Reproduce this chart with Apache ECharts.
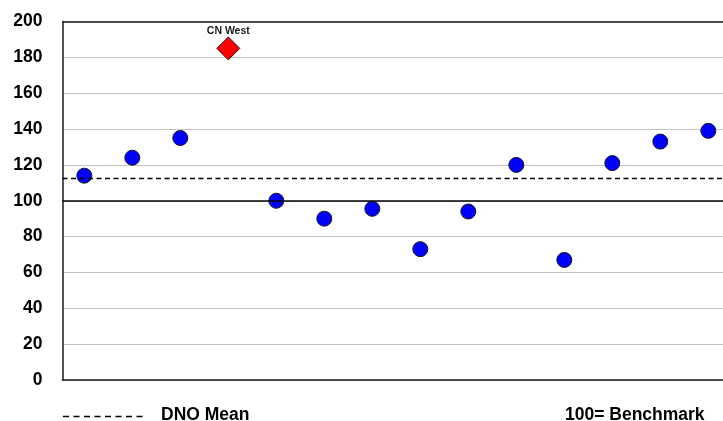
<!DOCTYPE html>
<html>
<head>
<meta charset="utf-8">
<script src="https://cdn.jsdelivr.net/npm/echarts@6/dist/echarts.min.js"></script>
<style>
  html, body { margin: 0; padding: 0; background: #fff; }
  #chart { width: 723px; height: 421px; }
</style>
</head>
<body>
<div id="chart"></div>
<script>
// Index scores per DNO area, in plotting order
const positions = [1, 2, 3, 4, 5, 6, 7, 8, 9, 10, 11, 12, 13, 14];
const scores = [114, 124, 135, 185, 100, 90, 95.5, 73, 94, 120, 67, 121, 133, 139];
const pointNames = ['', '', '', 'CN West', '', '', '', '', '', '', '', '', '', ''];
const highlighted = 'CN West';
const yTicks = [0, 20, 40, 60, 80, 100, 120, 140, 160, 180, 200];
const benchmark = 100;
const dnoMean = 112.7;

const FONT = "'Liberation Sans', Arial, Helvetica, sans-serif";

const normalPts = [];
const highlightPts = [];
positions.forEach((x, i) => {
  const pt = { value: [x, scores[i]], name: pointNames[i] };
  if (pointNames[i] === highlighted) highlightPts.push(pt); else normalPts.push(pt);
});

const chart = echarts.init(document.getElementById('chart'), null, { renderer: 'canvas' });

chart.setOption({
  animation: false,
  backgroundColor: '#ffffff',
  grid: { left: 62.5, top: 21.5, right: 0, bottom: 41 },
  xAxis: {
    type: 'value',
    min: 0.546, max: 14.306,
    axisLine: { show: true, onZero: false, lineStyle: { color: '#1a1a1a', width: 1.5 } },
    axisTick: { show: false },
    axisLabel: { show: false },
    splitLine: { show: false }
  },
  yAxis: {
    type: 'value',
    min: yTicks[0], max: yTicks[yTicks.length - 1], interval: 20,
    axisLine: { show: true, lineStyle: { color: '#1a1a1a', width: 1.5 } },
    axisTick: { show: false },
    axisLabel: {
      color: '#000', fontSize: 17.5, fontWeight: 'bold', fontFamily: FONT, margin: 20
    },
    splitLine: { show: true, lineStyle: { color: '#c4c4c4', width: 1.2 } }
  },
  series: [
    {
      // reference lines: top frame, benchmark and DNO mean
      type: 'line',
      data: [],
      z: 1,
      silent: true,
      markLine: {
        silent: true,
        symbol: 'none',
        label: { show: false },
        animation: false,
        data: [
          { yAxis: yTicks[yTicks.length - 1], lineStyle: { color: '#1a1a1a', width: 1.5, type: 'solid' } },
          { yAxis: benchmark, lineStyle: { color: '#000', width: 1.5, type: 'solid' } },
          { yAxis: dnoMean, lineStyle: { color: '#000', width: 1.3, type: [5, 3.5] } }
        ]
      }
    },
    {
      type: 'scatter',
      z: 3,
      data: normalPts,
      symbol: 'circle',
      symbolSize: 15,
      itemStyle: { color: '#0000ff', opacity: 1, borderColor: '#1a1a1a', borderWidth: 1 }
    },
    {
      type: 'scatter',
      z: 4,
      data: highlightPts,
      symbol: 'diamond',
      symbolSize: [23, 23],
      itemStyle: { color: '#ff0000', opacity: 1, borderColor: '#1a1a1a', borderWidth: 1 },
      label: {
        show: true, position: 'top', distance: 0,
        formatter: p => p.name,
        color: '#1a1a1a', fontSize: 10.5, fontWeight: 'bold', fontFamily: FONT
      }
    }
  ],
  graphic: [
    {
      type: 'line',
      shape: { x1: 63, y1: 416.5, x2: 147, y2: 416.5 },
      style: { stroke: '#000', lineWidth: 1.3, lineDash: [6, 4.5] }
    },
    {
      type: 'text', x: 161, y: 415,
      style: {
        text: 'DNO Mean', fill: '#000', font: 'bold 17.5px ' + FONT,
        textAlign: 'left', textVerticalAlign: 'middle'
      }
    },
    {
      type: 'text', x: 565, y: 415,
      style: {
        text: '100= Benchmark', fill: '#000', font: 'bold 17.5px ' + FONT,
        textAlign: 'left', textVerticalAlign: 'middle'
      }
    }
  ]
});
</script>
</body>
</html>
